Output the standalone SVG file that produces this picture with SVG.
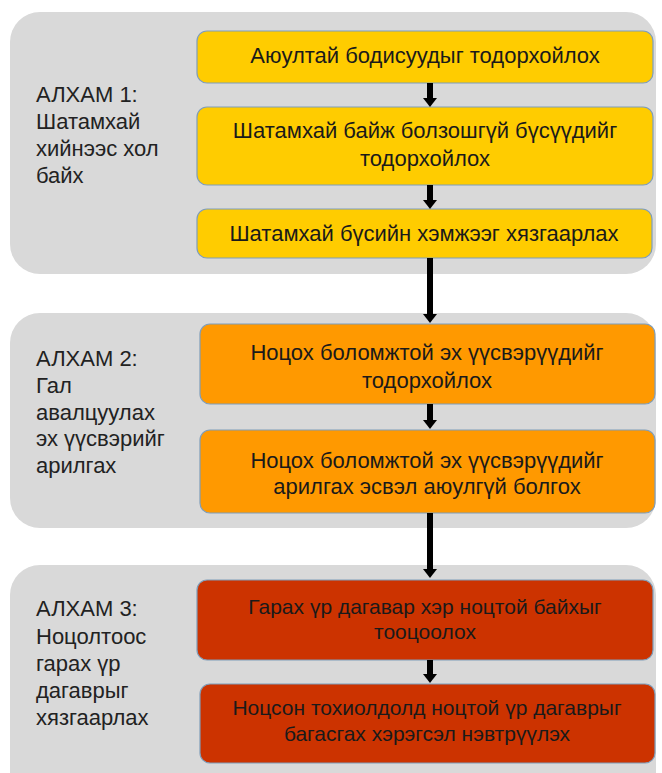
<svg xmlns="http://www.w3.org/2000/svg" width="662" height="773" viewBox="0 0 662 773">
<defs>
<style>
.panel{fill:#d9d9d9;}
.box{stroke:#7f9db9;stroke-width:1.2;}
.y{fill:#ffcc00;}
.o{fill:#ff9900;}
.r{fill:#cc3300;}
text{font-family:"Liberation Sans",Arial,sans-serif;fill:#1a1a1a;}
.lbl{font-size:22px;fill:#222;}
.bt{font-size:22px;text-anchor:middle;}
.bs{font-size:21px;}
.shaft{stroke:#000;stroke-width:6;fill:none;}
.head{fill:#000;}
</style>
</defs>
<g id="panels">
<rect id="panel1" class="panel" x="10" y="12" width="646" height="262" rx="30"/>
<rect id="panel2" class="panel" x="10" y="313" width="646" height="215" rx="30"/>
<rect id="panel3" class="panel" x="10" y="565" width="646" height="240" rx="30"/>
</g>
<g id="step1">
<text class="lbl" x="36" y="102">АЛХАМ 1:</text>
<text class="lbl" x="36" y="129">Шатамхай</text>
<text class="lbl" x="36" y="156">хийнээс хол</text>
<text class="lbl" x="36" y="183">байх</text>
</g>
<g id="step2">
<text class="lbl" x="36" y="366">АЛХАМ 2:</text>
<text class="lbl" x="36" y="393">Гал</text>
<text class="lbl" x="36" y="420">авалцуулах</text>
<text class="lbl" x="36" y="446">эх үүсвэрийг</text>
<text class="lbl" x="36" y="473">арилгах</text>
</g>
<g id="step3">
<text class="lbl" x="36" y="616">АЛХАМ 3:</text>
<text class="lbl" x="36" y="644">Ноцолтоос</text>
<text class="lbl" x="36" y="671">гарах үр</text>
<text class="lbl" x="36" y="698">дагаврыг</text>
<text class="lbl" x="36" y="725">хязгаарлах</text>
</g>
<g id="box1">
<rect class="box y" x="197" y="31" width="456" height="52" rx="10"/>
<text class="bt" x="425" y="63">Аюултай бодисуудыг тодорхойлох</text>
</g>
<g id="box2">
<rect class="box y" x="197" y="107" width="456" height="78" rx="10"/>
<text class="bt" x="425" y="138">Шатамхай байж болзошгүй бүсүүдийг</text>
<text class="bt" x="425" y="166">тодорхойлох</text>
</g>
<g id="box3">
<rect class="box y" x="197" y="209" width="455" height="49" rx="10"/>
<text class="bt" x="424" y="241">Шатамхай бүсийн хэмжээг хязгаарлах</text>
</g>
<g id="box4">
<rect class="box o" x="200" y="324" width="455" height="80" rx="10"/>
<text class="bt" x="427" y="360">Ноцох боломжтой эх үүсвэрүүдийг</text>
<text class="bt" x="427" y="388">тодорхойлох</text>
</g>
<g id="box5">
<rect class="box o" x="200" y="430" width="455" height="83" rx="10"/>
<text class="bt" x="427" y="468">Ноцох боломжтой эх үүсвэрүүдийг</text>
<text class="bt" x="427" y="494">арилгах эсвэл аюулгүй болгох</text>
</g>
<g id="box6">
<rect class="box r" x="197" y="580" width="456" height="80" rx="10"/>
<text class="bt bs" x="425" y="614">Гарах үр дагавар хэр ноцтой байхыг</text>
<text class="bt bs" x="425" y="639">тооцоолох</text>
</g>
<g id="box7">
<rect class="box r" x="200" y="684" width="455" height="79" rx="10"/>
<text class="bt bs" x="427" y="715">Ноцсон тохиолдолд ноцтой үр дагаврыг</text>
<text class="bt bs" x="427" y="741">багасгах хэрэгсэл нэвтрүүлэх</text>
</g>
<g id="connectors">
<line class="shaft" x1="430" y1="83" x2="430" y2="99"/>
<polygon class="head" points="423,98 437,98 430,107"/>
<line class="shaft" x1="430" y1="185" x2="430" y2="201"/>
<polygon class="head" points="423,200 437,200 430,209"/>
<line class="shaft" x1="430" y1="258" x2="430" y2="315"/>
<polygon class="head" points="423,314 437,314 430,323"/>
<line class="shaft" x1="430" y1="404" x2="430" y2="421"/>
<polygon class="head" points="423,420 437,420 430,429"/>
<line class="shaft" x1="430" y1="513" x2="430" y2="570"/>
<polygon class="head" points="423,569 437,569 430,578"/>
<line class="shaft" x1="430" y1="660" x2="430" y2="675"/>
<polygon class="head" points="423,674 437,674 430,683"/>
</g>
</svg>
